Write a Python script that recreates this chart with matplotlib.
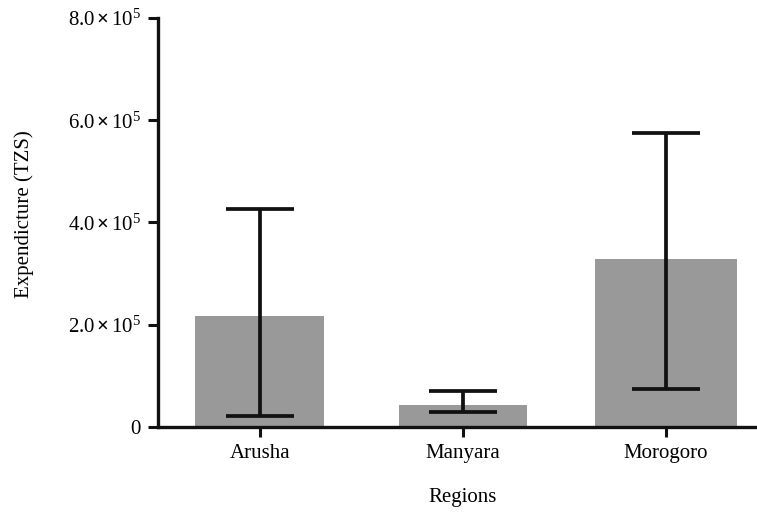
import matplotlib
matplotlib.use("Agg")
import matplotlib.pyplot as plt
import numpy as np

regions = ["Arusha", "Manyara", "Morogoro"]
means = [2.17e5, 4.3e4, 3.29e5]
err_low = [2.2e4, 2.9e4, 7.5e4]
err_high = [4.27e5, 7.0e4, 5.75e5]
bar_widths = [0.635, 0.635, 0.695]
yticks = [0, 2e5, 4e5, 6e5, 8e5]
ytick_labels = ["0", r"$2.0\,\mathbf{\times}\,10^5$", r"$4.0\,\mathbf{\times}\,10^5$",
                r"$6.0\,\mathbf{\times}\,10^5$", r"$8.0\,\mathbf{\times}\,10^5$"]

plt.rcParams['font.family'] = ['Liberation Serif', 'DejaVu Serif']
plt.rcParams['mathtext.fontset'] = 'custom'
plt.rcParams['mathtext.rm'] = 'Liberation Serif'
plt.rcParams['mathtext.it'] = 'Liberation Serif:italic'
plt.rcParams['mathtext.bf'] = 'Liberation Serif:bold'

fig = plt.figure(figsize=(7.57, 5.25), dpi=100)
ax = fig.add_axes([158/757, (525-427)/525, 1 - 158/757, (427-18)/525])

x = np.arange(len(regions))
ax.bar(x, means, width=bar_widths, color="#999999", zorder=1)
m = np.array(means)
yerr = [m - np.array(err_low), np.array(err_high) - m]
ax.errorbar(x, means, yerr=yerr, fmt="none", ecolor="#111111",
            elinewidth=2.7, capsize=24.5, capthick=2.7, zorder=2)

ax.set_xlim(-0.502, 2.448)
ax.set_ylim(0, 8e5)
ax.set_yticks(yticks)
ax.set_yticklabels(ytick_labels)
ax.set_xticks(x)
ax.set_xticklabels(regions)

for s in ["top", "right"]:
    ax.spines[s].set_visible(False)
for s in ["left", "bottom"]:
    ax.spines[s].set_linewidth(2.4)
    ax.spines[s].set_color("#111111")
ax.tick_params(axis="both", length=7.5, width=2.2, color="#111111", labelsize=15, pad=5)

ax.set_xlabel("Regions", fontsize=15)
ax.xaxis.set_label_coords((463-158)/599, -0.148)
ax.set_ylabel("Expendicture (TZS)", fontsize=15)
ax.yaxis.set_label_coords(-0.207, (427-214)/409)

fig.savefig("out.png", dpi=100)
